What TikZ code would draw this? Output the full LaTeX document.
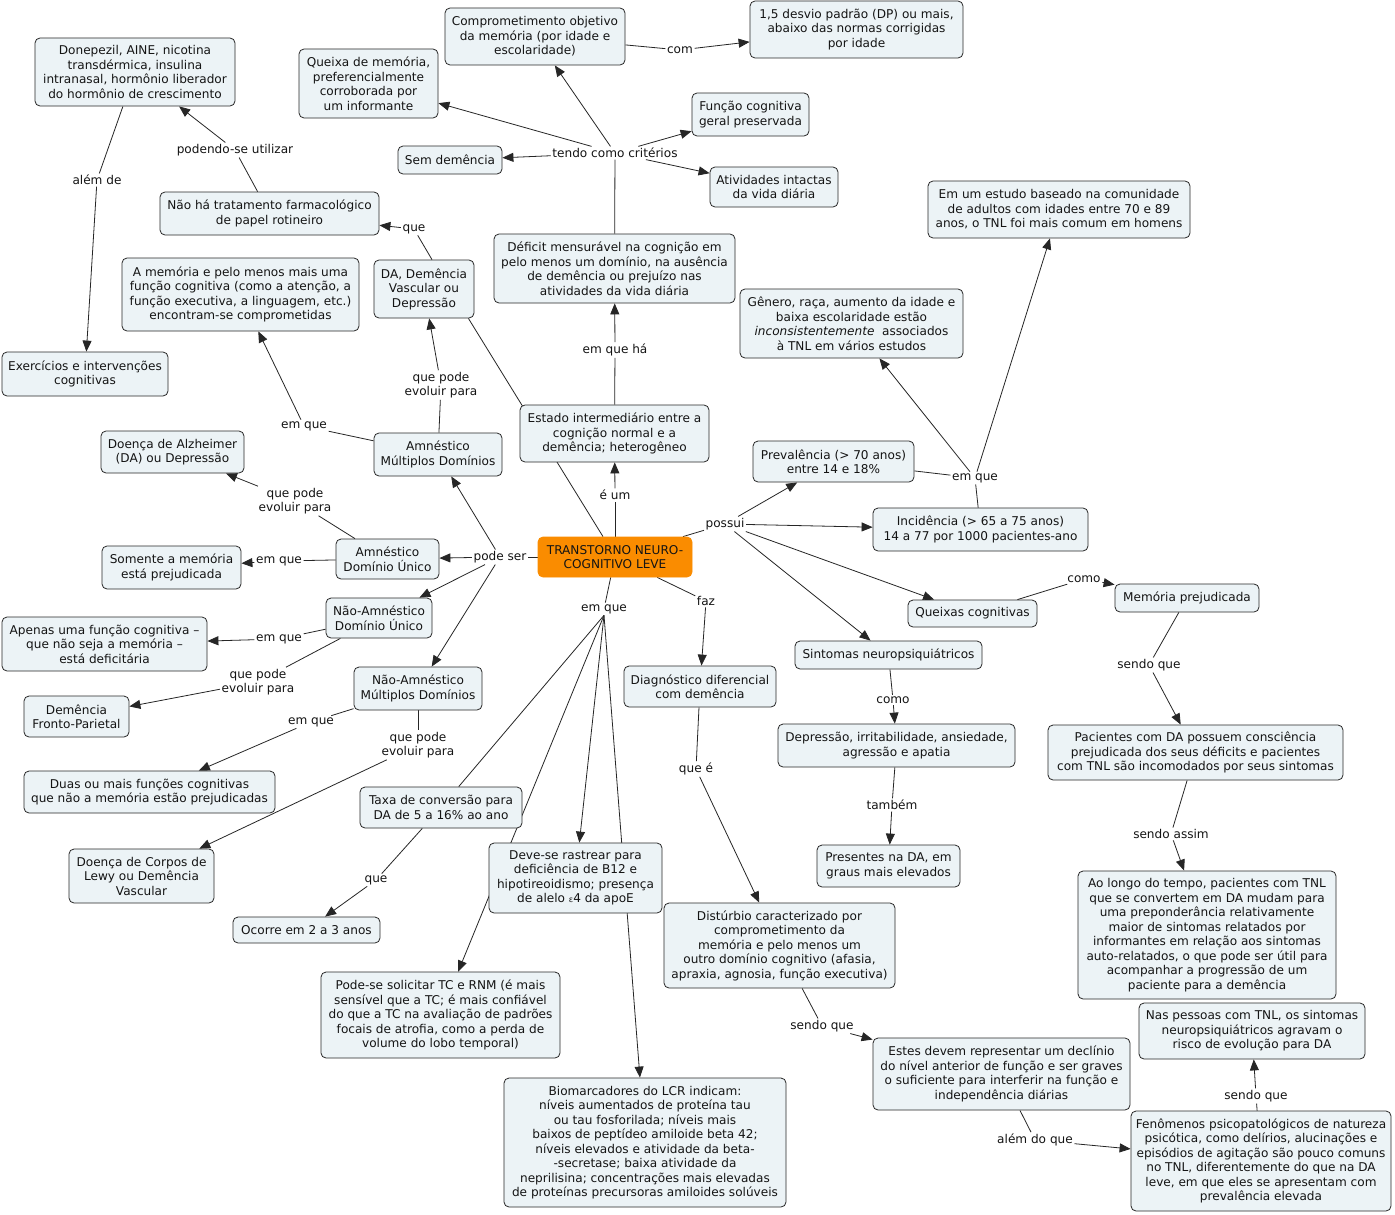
\documentclass[tikz,border=0pt]{standalone}
\usepackage{fontspec}
\setmainfont{DejaVu Sans}
\usetikzlibrary{arrows.meta}
\pgfdeclarelayer{bg}
\pgfsetlayers{bg,main}
\definecolor{boxfill}{RGB}{236,243,246}
\definecolor{boxline}{RGB}{40,40,40}
\definecolor{orangefill}{RGB}{250,140,0}
\definecolor{txt}{RGB}{20,20,20}
\newcommand\mapfont{\fontsize{12.1}{14.5}\selectfont}
\newcommand\epsil{{\fontsize{8}{8}\selectfont ε}}
\tikzset{
 cbox/.style={draw=boxline, fill=boxfill, rounded corners=5pt, line width=0.8pt, align=center, inner xsep=2pt, inner ysep=2pt, font=\mapfont, text=txt},
 wh/.style 2 args={minimum width=#1pt, minimum height=#2pt},
 lbl/.style={align=center, inner sep=1.5pt, font=\mapfont, text=txt},
 ln/.style={draw=black!85, line width=0.8pt},
 arr/.style={ln, -{Triangle[length=11pt,width=9pt]}},
}
\begin{document}
\begin{tikzpicture}[x=1pt, y=-1pt]
\useasboundingbox (0,0) rectangle (1395,1215);
% concepts
\node[cbox,wh={200}{68}] (don) at (135,72) {Donepezil, AINE, nicotina\\transdérmica, insulina\\intranasal, hormônio liberador\\do hormônio de crescimento};
\node[cbox,wh={139}{69}] (qm) at (368.5,83.5) {Queixa de memória,\\preferencialmente\\corroborada por\\um informante};
\node[cbox,wh={180}{57}] (comp) at (535,36.5) {Comprometimento objetivo\\da memória (por idade e\\escolaridade)};
\node[cbox,wh={213}{57}] (dp) at (856.5,29.5) {1,5 desvio padrão (DP) ou mais,\\abaixo das normas corrigidas\\por idade};
\node[cbox,wh={117}{43}] (func) at (750.5,114.5) {Função cognitiva\\geral preservada};
\node[cbox,wh={104}{28}] (semd) at (450,160) {Sem demência};
\node[cbox,wh={128}{40}] (ativ) at (774,187) {Atividades intactas\\da vida diária};
\node[cbox,wh={219}{43}] (trat) at (269.5,213.5) {Não há tratamento farmacológico\\de papel rotineiro};
\node[cbox,wh={262}{57}] (estudo) at (1059,209.5) {Em um estudo baseado na comunidade\\de adultos com idades entre 70 e 89\\anos, o TNL foi mais comum em homens};
\node[cbox,wh={241}{69}] (def) at (614.5,268.5) {Déficit mensurável na cognição em\\pelo menos um domínio, na ausência\\de demência ou prejuízo nas\\atividades da vida diária};
\node[cbox,wh={237}{73}] (mem) at (240.5,294.5) {A memória e pelo menos mais uma\\função cognitiva (como a atenção, a\\função executiva, a linguagem, etc.)\\encontram-se comprometidas};
\node[cbox,wh={100}{58}] (dadv) at (424,289) {DA, Demência\\Vascular ou\\Depressão};
\node[cbox,wh={223}{69}] (gen) at (851.5,323.5) {Gênero, raça, aumento da idade e\\baixa escolaridade estão\\\textit{inconsistentemente}\ \ associados\\à TNL em vários estudos};
\node[cbox,wh={166}{44}] (exer) at (85,374) {Exercícios e intervenções\\cognitivas};
\node[cbox,wh={189}{57}] (est) at (614.5,433.5) {Estado intermediário entre a\\cognição normal e a\\demência; heterogêneo};
\node[cbox,wh={128}{43}] (amd) at (438,454.5) {Amnéstico\\Múltiplos Domínios};
\node[cbox,wh={143}{42}] (alz) at (172.5,452) {Doença de Alzheimer\\(DA) ou Depressão};
\node[cbox,wh={161}{41}] (prev) at (833.5,461.5) {Prevalência (> 70 anos)\\entre 14 e 18\%};
\node[cbox,wh={215}{43}] (inc) at (980.5,529.5) {Incidência (> 65 a 75 anos)\\14 a 77 por 1000 pacientes-ano};
\node[cbox,wh={154}{40},draw=orangefill,fill=orangefill] (tnl) at (615,557) {TRANSTORNO NEURO-\\COGNITIVO LEVE};
\node[cbox,wh={103}{40}] (adu) at (387.5,559) {Amnéstico\\Domínio Único};
\node[cbox,wh={139}{43}] (som) at (171.5,567.5) {Somente a memória\\está prejudicada};
\node[cbox,wh={106}{40}] (nadu) at (379,618) {Não-Amnéstico\\Domínio Único};
\node[cbox,wh={205}{54}] (apen) at (104.5,644) {Apenas uma função cognitiva –\\que não seja a memória –\\está deficitária};
\node[cbox,wh={129}{27}] (qcog) at (972.5,613.5) {Queixas cognitivas};
\node[cbox,wh={144}{28}] (memp) at (1187,598) {Memória prejudicada};
\node[cbox,wh={187}{28}] (sint) at (888.5,655) {Sintomas neuropsiquiátricos};
\node[cbox,wh={152}{41}] (diag) at (700,686.5) {Diagnóstico diferencial\\com demência};
\node[cbox,wh={128}{43}] (namd) at (418,688.5) {Não-Amnéstico\\Múltiplos Domínios};
\node[cbox,wh={105}{41}] (dfp) at (76.5,716.5) {Demência\\Fronto-Parietal};
\node[cbox,wh={237}{43}] (depr) at (896.5,745.5) {Depressão, irritabilidade, ansiedade,\\agressão e apatia};
\node[cbox,wh={295}{55}] (pac) at (1195.5,752.5) {Pacientes com DA possuem consciência\\prejudicada dos seus déficits e pacientes\\com TNL são incomodados por seus sintomas};
\node[cbox,wh={251}{42}] (duas) at (149.5,792) {Duas ou mais funções cognitivas\\que não a memória estão prejudicadas};
\node[cbox,wh={162}{41}] (taxa) at (441,807.5) {Taxa de conversão para\\DA de 5 a 16\% ao ano};
\node[cbox,wh={145}{54}] (lewy) at (141.5,876) {Doença de Corpos de\\Lewy ou Demência\\Vascular};
\node[cbox,wh={173}{70}] (deve) at (575.5,878) {Deve-se rastrear para\\deficiência de B12 e\\hipotireoidismo; presença\\de alelo \epsil4 da apoE};
\node[cbox,wh={143}{42}] (pres) at (888.5,866) {Presentes na DA, em\\graus mais elevados};
\node[cbox,wh={258}{128}] (longo) at (1207,935) {Ao longo do tempo, pacientes com TNL\\que se convertem em DA mudam para\\uma preponderância relativamente\\maior de sintomas relatados por\\informantes em relação aos sintomas\\auto-relatados, o que pode ser útil para\\acompanhar a progressão de um\\paciente para a demência};
\node[cbox,wh={231}{85}] (dist) at (779.5,945.5) {Distúrbio caracterizado por\\comprometimento da\\memória e pelo menos um\\outro domínio cognitivo (afasia,\\apraxia, agnosia, função executiva)};
\node[cbox,wh={147}{26}] (ocor) at (306.5,930) {Ocorre em 2 a 3 anos};
\node[cbox,wh={239}{86}] (pode) at (440.5,1015) {Pode-se solicitar TC e RNM (é mais\\sensível que a TC; é mais confiável\\do que a TC na avaliação de padrões\\focais de atrofia, como a perda de\\volume do lobo temporal)};
\node[cbox,wh={226}{56}] (nas) at (1252,1031) {Nas pessoas com TNL, os sintomas\\neuropsiquiátricos agravam o\\risco de evolução para DA};
\node[cbox,wh={257}{72}] (estes) at (1001.5,1074) {Estes devem representar um declínio\\do nível anterior de função e ser graves\\o suficiente para interferir na função e\\independência diárias};
\node[cbox,wh={282}{129}] (bio) at (645,1142.5) {Biomarcadores do LCR indicam:\\níveis aumentados de proteína tau\\ou tau fosforilada; níveis mais\\baixos de peptídeo amiloide beta 42;\\níveis elevados e atividade da beta-\\-secretase; baixa atividade da\\neprilisina; concentrações mais elevadas\\de proteínas precursoras amiloides solúveis};
\node[cbox,wh={260}{100}] (fen) at (1261,1161) {Fenômenos psicopatológicos de natureza\\psicótica, como delírios, alucinações e\\episódios de agitação são pouco comuns\\no TNL, diferentemente do que na DA\\leve, em que eles se apresentam com\\prevalência elevada};
% linking phrases
\node[lbl] (lalem) at (97,180) {além de};
\node[lbl] (lpod) at (235,150) {podendo-se utilizar};
\node[lbl] (lque) at (414,229) {que};
\node[lbl] (lcom) at (680,50) {com};
\node[lbl] (ltend) at (615,153) {tendo como critérios};
\node[lbl] (lha) at (615,350) {em que há};
\node[lbl] (leum) at (615,495) {é um};
\node[lbl] (lps) at (500,557) {pode ser};
\node[lbl] (lev1) at (441,385) {que pode\\evoluir para};
\node[lbl] (leq1) at (304,426) {em que};
\node[lbl] (lev2) at (295,501) {que pode\\evoluir para};
\node[lbl] (leq2) at (279,561) {em que};
\node[lbl] (leq3) at (279,639) {em que};
\node[lbl] (lev3) at (258,682) {que pode\\evoluir para};
\node[lbl] (leq4) at (311,722) {em que};
\node[lbl] (lev4) at (418,745) {que pode\\evoluir para};
\node[lbl] (leq5) at (604,609) {em que};
\node[lbl] (lque2) at (376,880) {que};
\node[lbl] (lfaz) at (706,601) {faz};
\node[lbl] (lqe) at (696,769) {que é};
\node[lbl] (lsq1) at (822,1026) {sendo que};
\node[lbl] (ladq) at (1035,1140) {além do que};
\node[lbl] (lsq2) at (1256,1096) {sendo que};
\node[lbl] (lpos) at (725,524) {possui};
\node[lbl] (leq6) at (975,478) {em que};
\node[lbl] (lcomo1) at (1084,579) {como};
\node[lbl] (lsq3) at (1149,665) {sendo que};
\node[lbl] (lsa) at (1171,834) {sendo assim};
\node[lbl] (lcomo2) at (893,700) {como};
\node[lbl] (ltamb) at (892,805) {também};
% connectors
\begin{pgfonlayer}{bg}
\fill[white] (0,0) rectangle (1395,1215);
\draw[ln] (don) -- (lalem); \draw[arr] (lalem) -- (exer);
\draw[ln] (trat) -- (lpod); \draw[arr] (lpod) -- (don);
\draw[ln] ([xshift=8pt]dadv.north) -- (lque); \draw[arr] (lque) -- (trat);
\draw[ln] (comp) -- (lcom); \draw[arr] (lcom) -- (dp);
\draw[ln] (def) -- (ltend);
\draw[arr] (ltend) -- (qm); \draw[arr] (ltend) -- (comp); \draw[arr] (ltend) -- (func);
\draw[arr] (ltend) -- (semd); \draw[arr] (ltend) -- (ativ);
\draw[ln] (est) -- (lha); \draw[arr] (lha) -- (def);
\draw[ln] (tnl) -- (leum); \draw[arr] (leum) -- (est);
\draw[ln] ([xshift=-6pt]dadv.south east) -- ([xshift=-12pt]tnl.north);
\draw[ln] (tnl) -- (lps);
\draw[arr] (lps) -- (amd); \draw[arr] (lps) -- (adu); \draw[arr] (lps) -- (nadu); \draw[arr] (lps) -- (namd);
\draw[ln] (amd) -- (lev1); \draw[arr] (lev1) -- (dadv);
\draw[ln] (amd) -- (leq1); \draw[arr] (leq1) -- (mem);
\draw[ln] (adu) -- (lev2); \draw[arr] (lev2) -- (alz);
\draw[ln] (adu) -- (leq2); \draw[arr] (leq2) -- (som);
\draw[ln] (nadu) -- (leq3); \draw[arr] (leq3) -- (apen);
\draw[ln] (nadu) -- (lev3); \draw[arr] (lev3) -- (dfp);
\draw[ln] (namd) -- (leq4); \draw[arr] (leq4) -- (duas);
\draw[ln] (namd) -- (lev4); \draw[arr] (lev4) -- (lewy);
\draw[ln] (tnl) -- (leq5);
\draw[ln] (leq5.south) -- (taxa); \draw[arr] (leq5.south) -- (pode); \draw[arr] (leq5.south) -- (deve); \draw[arr] (leq5.south) -- (bio);
\draw[ln] (taxa) -- (lque2); \draw[arr] (lque2) -- (ocor);
\draw[ln] (tnl) -- (lfaz); \draw[arr] (lfaz) -- (diag);
\draw[ln] (diag) -- (lqe); \draw[arr] (lqe) -- (dist);
\draw[ln] (dist) -- (lsq1); \draw[arr] (lsq1) -- (estes);
\draw[ln] (estes) -- (ladq); \draw[arr] (ladq) -- (fen);
\draw[ln] (fen) -- (lsq2); \draw[arr] (lsq2) -- (nas);
\draw[ln] (tnl) -- (lpos);
\draw[arr] (lpos) -- (prev); \draw[arr] (lpos) -- (inc); \draw[arr] (lpos) -- (qcog); \draw[arr] (lpos) -- (sint);
\draw[ln] (prev) -- (leq6); \draw[ln] (inc) -- (leq6);
\draw[arr] (leq6) -- (gen); \draw[arr] (leq6) -- (estudo);
\draw[ln] (qcog) -- (lcomo1); \draw[arr] (lcomo1) -- (memp);
\draw[ln] (memp) -- (lsq3); \draw[arr] (lsq3) -- (pac);
\draw[ln] (pac) -- (lsa); \draw[arr] (lsa) -- (longo);
\draw[ln] (sint) -- (lcomo2); \draw[arr] (lcomo2) -- (depr);
\draw[ln] (depr) -- (ltamb); \draw[arr] (ltamb) -- (pres);
\end{pgfonlayer}
\end{tikzpicture}
\end{document}
